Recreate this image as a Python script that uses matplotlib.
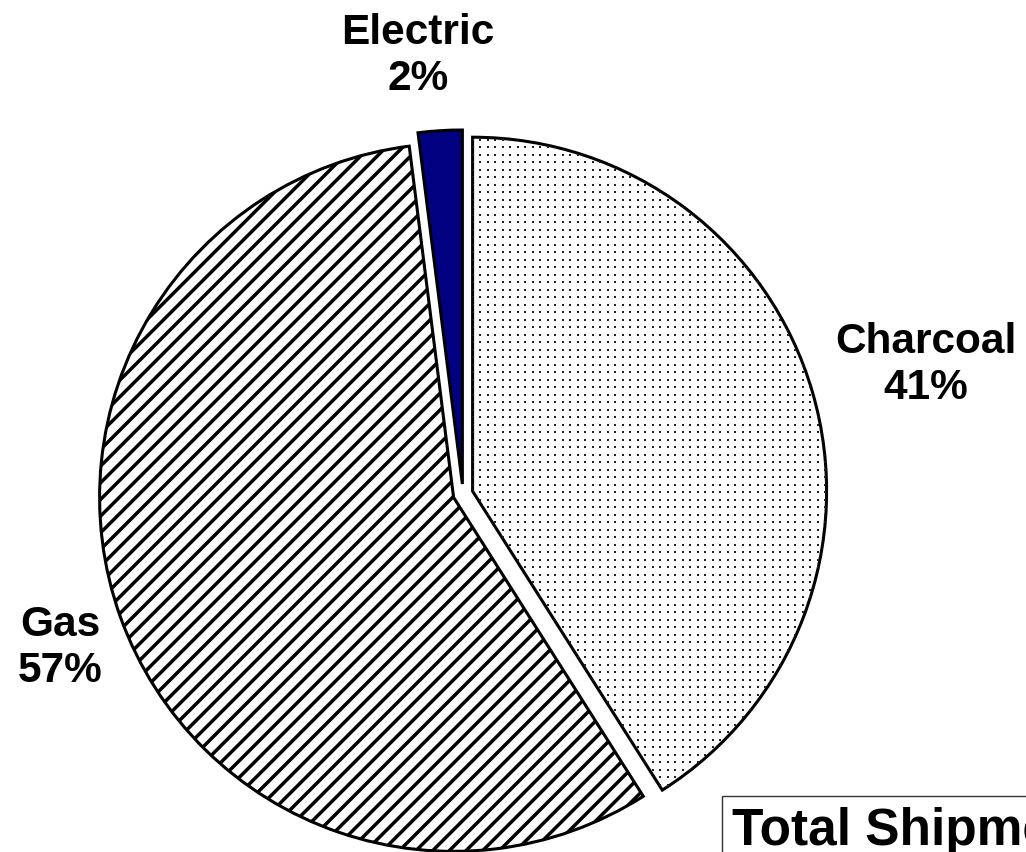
import numpy as np
import matplotlib.pyplot as plt

plt.rcParams['font.family'] = ['Liberation Sans', 'DejaVu Sans']
plt.rcParams['hatch.linewidth'] = 2.5

fuels = ["Charcoal", "Gas", "Electric"]
shares = [41, 57, 2]
colors = ["white", "white", "#000080"]
hatches = [None, "//", None]

W, H = 1026, 853
fig = plt.figure(figsize=(W / 100, H / 100), dpi=100)
ax = fig.add_axes([0, 0, 1, 1])

# pie in pixel-like data units (y up)
cx, cy, r = 463, 358, 354
wedges, _ = ax.pie(shares, explode=[10, 10, 10], startangle=90, counterclock=False,
                   radius=r, center=(cx, cy), colors=colors,
                   wedgeprops=dict(edgecolor="black", linewidth=2.2))
for w, h in zip(wedges, hatches):
    if h:
        w.set_hatch(h)

# dotted fill for charcoal (square grid of dots)
gx, gy = np.meshgrid(np.arange(0, W, 7.5), np.arange(0, H, 7.5))
dots = ax.scatter(gx.ravel(), gy.ravel(), s=3.0, c="#222222", marker="s",
                  linewidths=0, zorder=3)
dots.set_clip_path(wedges[0])

# labels
label_pos = {"Electric": (418, 797), "Charcoal": (926, 488), "Gas": (60, 205)}
for name, pct in zip(fuels, shares):
    x, y = label_pos[name]
    ax.text(x, y, f"{name}\n{pct}%", ha="center", va="center",
            fontsize=30.5, fontweight="bold", linespacing=1.22)

ax.text(732, 8, "Total Shipments", ha="left", va="baseline", fontsize=37,
        fontweight="bold",
        bbox=dict(boxstyle="square,pad=0.2", facecolor="white",
                  edgecolor="#333333", linewidth=1))

ax.set_xlim(0, W)
ax.set_ylim(0, H)
ax.set_aspect("auto")
ax.axis("off")

fig.savefig("out.png", dpi=100)
